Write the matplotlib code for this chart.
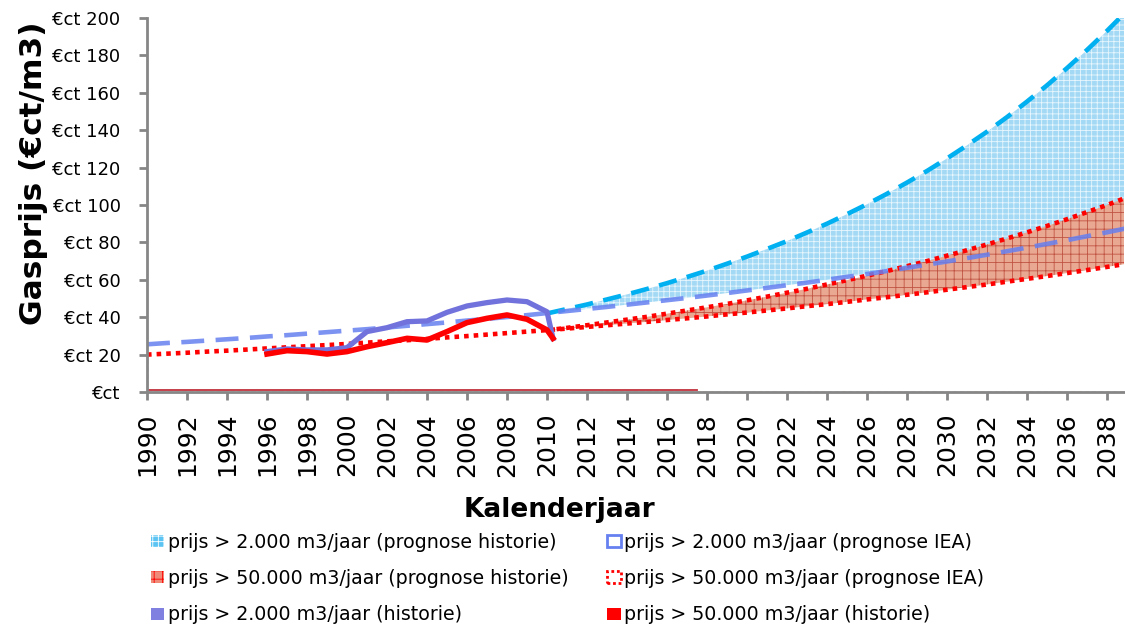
import matplotlib
matplotlib.use('Agg')
import matplotlib.pyplot as plt
from matplotlib.patches import Patch

# Jaren op de x-as
jaren_iea = list(range(1990, 2040))
jaren_prognose = list(range(2010, 2040))
jaren_historie = [1996, 1997, 1998, 1999, 2000, 2001, 2002, 2003, 2004, 2005,
                  2006, 2007, 2008, 2009, 2010, 2010.3]

# Historische gasprijzen (€ct/m3)
hist_2000 = [21.6, 23.0, 22.5, 22.5, 23.7, 32.3, 34.4, 37.6, 38.0, 42.6,
             46.0, 47.8, 49.2, 48.3, 42.9, 28.7]
hist_50000 = [20.3, 22.1, 21.6, 20.3, 21.6, 24.2, 26.4, 28.7, 27.8, 32.3,
              37.1, 39.4, 41.2, 38.9, 33.2, 28.7]

# Prognose IEA (1990 - 2039)
iea_2000 = [25.5, 26.2, 26.8, 27.5, 28.2, 28.9, 29.7, 30.4, 31.2, 32.0,
            32.8, 33.6, 34.5, 35.4, 36.3, 37.2, 38.2, 39.1, 40.1, 41.1,
            42.2, 43.3, 44.4, 45.5, 46.7, 47.9, 49.1, 50.3, 51.6, 52.9,
            54.3, 55.7, 57.1, 58.5, 60.0, 61.6, 63.1, 64.7, 66.4, 68.1,
            69.8, 71.6, 73.4, 75.3, 77.2, 79.2, 81.2, 83.3, 85.4, 87.6]
iea_50000 = [20.0, 20.5, 21.0, 21.6, 22.1, 22.7, 23.3, 23.9, 24.5, 25.1,
             25.7, 26.4, 27.1, 27.7, 28.4, 29.2, 29.9, 30.7, 31.5, 32.3,
             33.1, 33.9, 34.8, 35.7, 36.6, 37.5, 38.5, 39.4, 40.4, 41.5,
             42.5, 43.6, 44.7, 45.9, 47.0, 48.2, 49.5, 50.7, 52.0, 53.3,
             54.7, 56.1, 57.5, 59.0, 60.5, 62.0, 63.6, 65.2, 66.9, 68.6]

# Prognose op basis van historie (2010 - 2039)
prog_2000 = [42.0, 44.4, 46.8, 49.5, 52.2, 55.1, 58.2, 61.5, 64.9, 68.6,
             72.4, 76.5, 80.7, 85.3, 90.0, 95.1, 100.4, 106.0, 112.0, 118.2,
             124.9, 131.9, 139.2, 147.0, 155.3, 164.0, 173.2, 182.9, 193.1, 203.9]
prog_50000 = [33.0, 34.3, 35.7, 37.2, 38.7, 40.2, 41.9, 43.6, 45.3, 47.1,
              49.0, 51.0, 53.1, 55.2, 57.5, 59.8, 62.2, 64.7, 67.3, 70.0,
              72.9, 75.8, 78.9, 82.1, 85.4, 88.8, 92.4, 96.2, 100.0, 104.1]

# Dunne lijn onderaan de grafiek
jaren_nul = [1990, 2017.5]
waarden_nul = [1.0, 1.0]

y_ticks = [0, 20, 40, 60, 80, 100, 120, 140, 160, 180, 200]
y_labels = ['€ct', '€ct 20', '€ct 40', '€ct 60', '€ct 80', '€ct 100',
            '€ct 120', '€ct 140', '€ct 160', '€ct 180', '€ct 200']
x_ticks = list(range(1990, 2039, 2))

labels = ['prijs > 2.000 m3/jaar (prognose historie)',
          'prijs > 2.000 m3/jaar (prognose IEA)',
          'prijs > 50.000 m3/jaar (prognose historie)',
          'prijs > 50.000 m3/jaar (prognose IEA)',
          'prijs > 2.000 m3/jaar (historie)',
          'prijs > 50.000 m3/jaar (historie)']

kleur_cyaan = '#00b0f0'
kleur_paars_iea = '#6680f0'
kleur_paars = '#7272dc'
kleur_rood = '#ff0000'
grijs = '#868686'

plt.rcParams['hatch.linewidth'] = 0.6

fig = plt.figure(figsize=(11.25, 6.28), dpi=100)
ax = fig.add_axes([147 / 1125, 1 - 392 / 628, 977 / 1125, 374 / 628])

# Vlakken (volgorde bepaalt wat zichtbaar blijft)
ax.fill_between(jaren_prognose, 0, prog_2000, facecolor='#a3d9f4',
                hatch='+++', edgecolor='#e8f6fd', linewidth=0, zorder=1)
ax.fill_between(jaren_iea, 0, iea_2000, facecolor='white', linewidth=0, zorder=2)
ax.fill_between(jaren_prognose, 0, prog_50000, facecolor='#e9a892',
                hatch='++', edgecolor='#c05444', linewidth=0, zorder=3)
ax.fill_between(jaren_iea, 0, iea_50000, facecolor='white', linewidth=0, zorder=4)

# Randen onderaan
ax.plot(jaren_nul, waarden_nul, color='#c0303a', linewidth=1.3, zorder=5)
ax.plot([1990, 2039], [0, 0], color='#e06060', linewidth=1, linestyle=(0, (3, 2)), zorder=5)
ax.plot([1990, 1990], [0, iea_50000[0]], color='#e04040', linewidth=1,
        linestyle=(0, (3, 2)), zorder=5)

# Prognoselijnen
ax.plot(jaren_prognose, prog_2000, color=kleur_cyaan, linewidth=3.3,
        dashes=(4, 2.3), zorder=6)
ax.plot(jaren_iea, iea_2000, color=kleur_paars_iea, linewidth=3.3, alpha=0.85,
        dashes=(5, 2.5), zorder=8)
ax.plot(jaren_prognose, prog_50000, color=kleur_rood, linewidth=3.3,
        dashes=(1, 1.1), zorder=7)
ax.plot(jaren_iea, iea_50000, color=kleur_rood, linewidth=3.3,
        dashes=(1, 1.1), zorder=7)

# Historie
ax.plot(jaren_historie, hist_2000, color=kleur_paars, linewidth=3.8,
        solid_joinstyle='round', zorder=9)
ax.plot(jaren_historie, hist_50000, color=kleur_rood, linewidth=4,
        solid_joinstyle='round', zorder=10)

ax.set_xlim(1990, 2038.85)
ax.set_ylim(0, 200)
ax.set_yticks(y_ticks)
ax.set_yticklabels(y_labels, fontsize=13)
ax.set_xticks(x_ticks)
ax.set_xticklabels([str(j) for j in x_ticks], rotation=90, fontsize=18)
ax.tick_params(colors=grijs, length=6, width=2, labelcolor='black')
ax.tick_params(axis='y', pad=13)
ax.tick_params(axis='x', pad=9)

for kant in ['top', 'right']:
    ax.spines[kant].set_visible(False)
for kant in ['left', 'bottom']:
    ax.spines[kant].set_color(grijs)
    ax.spines[kant].set_linewidth(2)
    ax.spines[kant].set_zorder(11)

ax.set_ylabel('Gasprijs (€ct/m3)', fontsize=22.5, fontweight='bold')
ax.yaxis.set_label_coords(-0.101, 0.585)
ax.set_xlabel('Kalenderjaar', fontsize=19, fontweight='bold')
ax.xaxis.set_label_coords(0.422, -0.28)

# Legenda onder de grafiek (kolomsgewijs gevuld)
handles = [
    Patch(facecolor='#5cc4f2', hatch='+++', edgecolor='white', linewidth=0),
    Patch(facecolor='#f08a78', hatch='++', edgecolor='#ff0000', linewidth=0),
    Patch(facecolor='#8080e0', linewidth=0),
    Patch(facecolor='white', edgecolor=kleur_paars_iea, linewidth=2),
    Patch(facecolor='white', edgecolor=kleur_rood, linewidth=2, linestyle=(0, (1, 1))),
    Patch(facecolor=kleur_rood, linewidth=0),
]
volgorde = [labels[0], labels[2], labels[4], labels[1], labels[3], labels[5]]
fig.legend(handles, volgorde, loc='upper left', bbox_to_anchor=(151 / 1125, 1 - 533 / 628),
           ncol=2, frameon=False, fontsize=13.7, handlelength=0.7, handleheight=0.6,
           handletextpad=0.17, columnspacing=2.05, labelspacing=0.9, borderaxespad=0,
           borderpad=0)

fig.savefig('out.png', dpi=100)
